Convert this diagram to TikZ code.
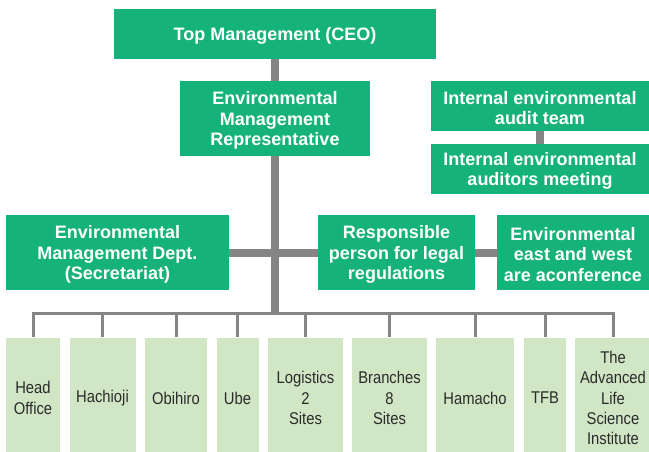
\documentclass[tikz,border=0pt]{standalone}
\usepackage{fontspec}
\setmainfont{Liberation Sans}
\newfontfamily\condfont{Liberation Sans}[FakeStretch=0.87]
\definecolor{dgreen}{HTML}{15B27A}
\definecolor{lgreen}{HTML}{D0E6C5}
\definecolor{lgray}{HTML}{858585}
\definecolor{txtdark}{HTML}{2B2B2B}
\newcommand\pushdn{\rule{0pt}{17pt}}
\tikzset{
  mgr/.style={rectangle, fill=dgreen, text=white, inner sep=0pt, align=center,
    font=\fontsize{18}{20.5}\selectfont\bfseries},
  site/.style={rectangle, fill=lgreen, text=txtdark, inner sep=0pt, align=center,
    minimum height=121pt, font=\condfont\fontsize{17}{20.3}\selectfont},
  thick bar/.style={draw=lgray, line width=8pt},
  thin bar/.style={draw=lgray, line width=3pt},
}
\begin{document}
\begin{tikzpicture}[x=1pt,y=-1pt]
\clip (0,0) rectangle (649,452);
\fill[white] (0,0) rectangle (649,452);
% management boxes
\node[mgr, minimum width=322pt, minimum height=50pt] (top) at (275,34) {\pushdn Top Management (CEO)};
\node[mgr, minimum width=190pt, minimum height=75pt] (emr) at (275,118.5) {\pushdn Environmental\\Management\\Representative};
\node[mgr, minimum width=218pt, minimum height=50pt] (iat) at (540,106) {\pushdn Internal environmental\\audit team};
\node[mgr, minimum width=218pt, minimum height=50pt] (iam) at (540,169) {\pushdn Internal environmental\\auditors meeting};
\node[mgr, minimum width=223pt, minimum height=75pt] (emd) at (117.5,252.5) {\pushdn Environmental\\Management Dept.\\(Secretariat)};
\node[mgr, minimum width=157pt, minimum height=75pt] (rp) at (396.5,252.5) {\pushdn Responsible\\person for legal\\regulations};
\node[mgr, minimum width=152pt, minimum height=75pt] (ew) at (573,252.5) {\pushdn Environmental\\east and west\\are aconference};
% sites
\node[site, minimum width=54pt] (b1) at (33,398) {Head\\Office};
\node[site, minimum width=66pt] (b2) at (102.5,398) {Hachioji};
\node[site, minimum width=62pt] (b3) at (176,398) {Obihiro};
\node[site, minimum width=42pt] (b4) at (237.5,398) {Ube};
\node[site, minimum width=75pt] (b5) at (305.5,398) {Logistics\\2\\Sites};
\node[site, minimum width=75pt] (b6) at (389.5,398) {Branches\\8\\Sites};
\node[site, minimum width=78pt] (b7) at (475,398) {Hamacho};
\node[site, minimum width=42pt] (b8) at (545,398) {TFB};
\node[site, minimum width=76pt] (b9) at (613,398) {The\\Advanced\\Life\\Science\\Institute};
% connectors
\coordinate (busc) at (274.5,313.5);
\draw[thick bar] (top) -- (emr);
\draw[thick bar] (emr.south -| busc) -- ([yshift=1.5pt]busc);
\draw[thick bar] (emd.east) -- (rp.west);
\draw[thick bar] (rp.east) -- (ew.west);
\draw[thick bar] (iat) -- (iam);
\draw[thin bar, line cap=rect] (b1.north |- busc) -- (b9.north |- busc);
\foreach \b in {b1,b2,b3,b4,b5,b6,b7,b8,b9}
  \draw[thin bar] (\b.north) -- (\b.north |- busc);
\end{tikzpicture}
\end{document}
